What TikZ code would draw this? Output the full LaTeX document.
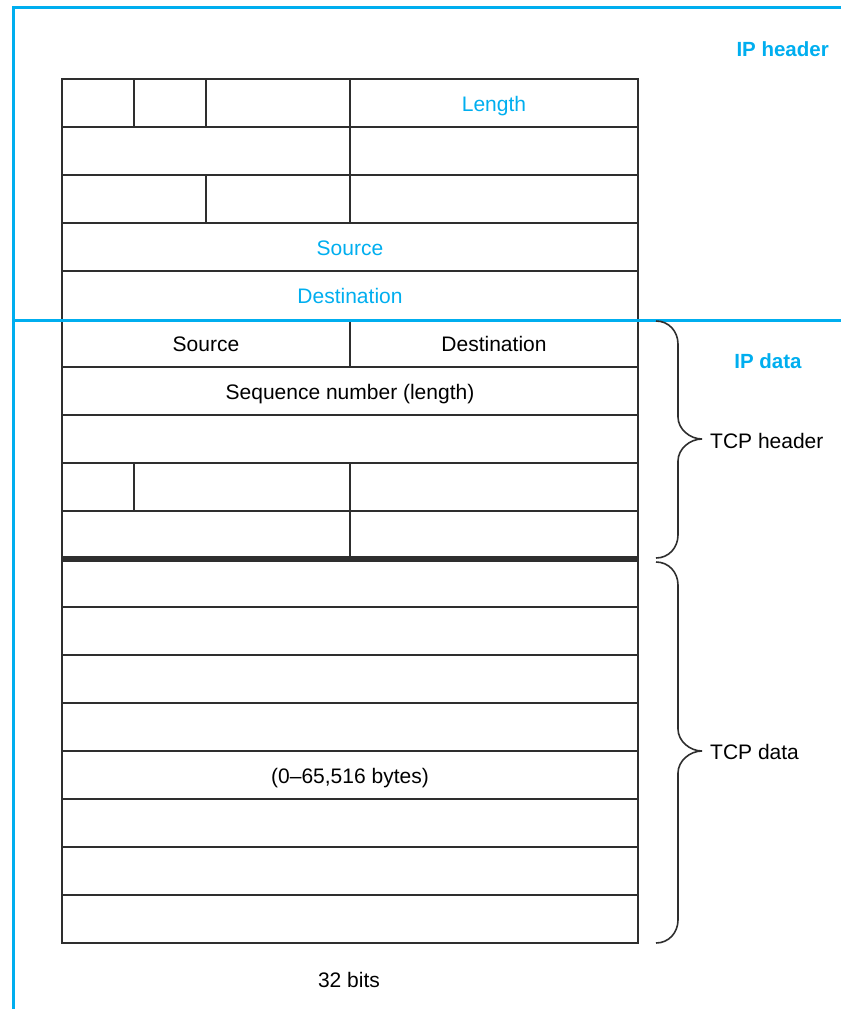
\documentclass[tikz,border=0pt]{standalone}
\usepackage{fontspec}
\setmainfont{Liberation Sans}
\definecolor{ipblue}{HTML}{00AEEF}
\definecolor{grid}{HTML}{2E2E2E}
\begin{document}
\begin{tikzpicture}[x=1pt,y=-1pt,
  cell/.style={draw=grid,line width=2pt},
  lbl/.style={font=\fontsize{21}{24}\selectfont,text=black,inner sep=0pt,anchor=base},
  bluelbl/.style={lbl,text=ipblue},
  bluebold/.style={font=\fontsize{20.5}{24}\selectfont\bfseries,text=ipblue,inner sep=0pt,anchor=base},
  braceline/.style={draw=grid,line width=1.6pt},
  ipline/.style={draw=ipblue,line width=3pt}]
\useasboundingbox (0,0) rectangle (841,1009);
% table outline and rows
\foreach \y in {127,175,223,271,367,415,463,511,607,655,703,751,799,847,895}
  \draw[cell] (62,\y) -- (638,\y);
\draw[cell] (62,79) rectangle (638,943);
\draw[draw=grid,line width=5.5pt] (62,559) -- (638,559);
% vertical dividers
\draw[cell] (134,79) -- (134,127);
\draw[cell] (206,79) -- (206,127);
\draw[cell] (350,79) -- (350,223);
\draw[cell] (206,175) -- (206,223);
\draw[cell] (350,319) -- (350,367);
\draw[cell] (134,463) -- (134,511);
\draw[cell] (350,463) -- (350,557);
% blue IP frame
\coordinate (tl) at (13,7);
\coordinate (tr) at (841,7);
\coordinate (bl) at (13,1009);
\coordinate (ml) at (13,320);
\coordinate (mr) at (841,320);
\draw[ipline] (tr) -- (tl) -- (bl);
\draw[ipline] (ml) -- (mr);
% labels
\node[bluelbl] (len) at (494,111) {Length};
\node[bluelbl] (ipsrc) at (350,255) {Source};
\node[bluelbl] (ipdst) at (350,303) {Destination};
\node[lbl] (tsrc) at (206,351) {Source};
\node[lbl] (tdst) at (494,351) {Destination};
\node[lbl] (seq) at (350,399) {Sequence number (length)};
\node[lbl] (bytes) at (350,783) {(0–65,516 bytes)};
\node[lbl] (bits) at (349,987) {32 bits};
\node[bluebold,anchor=base east] (iph) at (829,56.5) {IP header};
\node[bluebold] (ipd) at (768,368.5) {IP data};
\node[lbl,anchor=base west] (tcph) at (710,448.5) {TCP header};
\node[lbl,anchor=base west] (tcpd) at (710,759.5) {TCP data};
% braces
\draw[braceline] (656,321) .. controls (668.7,321) and (678,331.3) .. (678,344)
  -- (678,417) .. controls (678,429.1) and (689.9,439) .. (702,439)
  .. controls (689.9,439) and (678,448.9) .. (678,461)
  -- (678,535) .. controls (678,547.7) and (668.7,558) .. (656,558);
\draw[braceline] (656,562) .. controls (668.7,562) and (678,572.3) .. (678,585)
  -- (678,729) .. controls (678,741.1) and (689.9,751) .. (702,751)
  .. controls (689.9,751) and (678,760.9) .. (678,773)
  -- (678,920) .. controls (678,932.7) and (668.7,943) .. (656,943);
\end{tikzpicture}
\end{document}
